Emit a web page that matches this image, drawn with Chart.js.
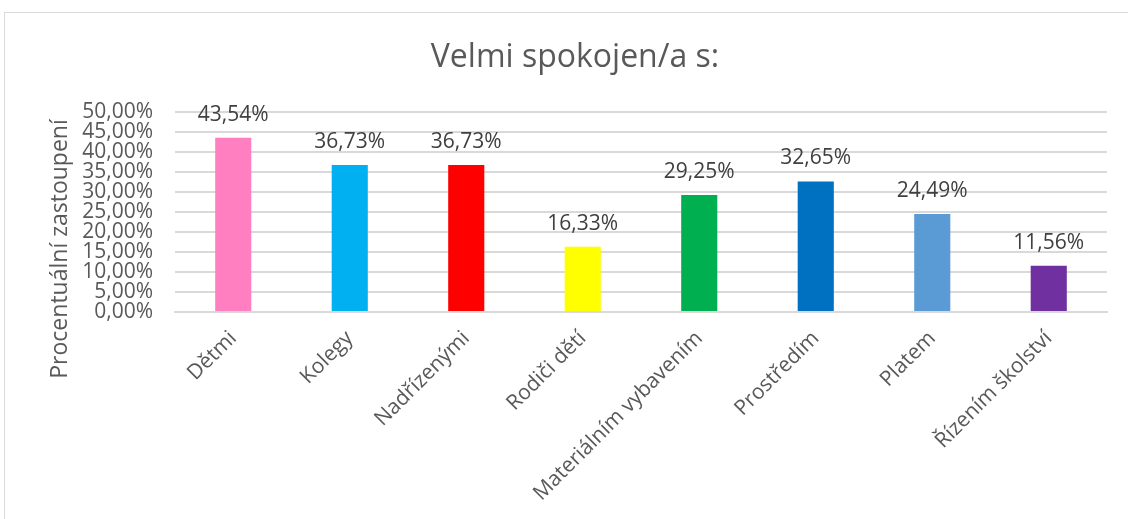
<!DOCTYPE html>
<html>
<head>
<meta charset="utf-8">
<script src="https://cdn.jsdelivr.net/npm/chart.js@4/dist/chart.umd.min.js"></script>
<style>
  html, body { margin: 0; padding: 0; background: #fff; }
  #wrap { position: relative; width: 1128px; height: 519px; overflow: hidden; }
  #frame { position: absolute; left: 4px; top: 12px; width: 1200px; height: 600px; border: 1px solid #d9d9d9; box-sizing: border-box; }
  canvas { position: absolute; left: 0; top: 0; }
</style>
</head>
<body>
<div id="wrap">
  <div id="frame"></div>
  <canvas id="chart" width="1128" height="519"></canvas>
</div>
<script>
// Velmi spokojen/a s: – values in percent
const categories = ['Dětmi', 'Kolegy', 'Nadřízenými', 'Rodiči dětí', 'Materiálním vybavením', 'Prostředím', 'Platem', 'Řízením školství'];
const values = [43.54, 36.73, 36.73, 16.33, 29.25, 32.65, 24.49, 11.56];
const barColors = ['#FF7FC0', '#00B0F0', '#FF0000', '#FFFF00', '#00B050', '#0070C0', '#5B9BD5', '#7030A0'];
const yTicks = [0, 5, 10, 15, 20, 25, 30, 35, 40, 45, 50];

const FONT = "'Open Sans', 'DejaVu Sans', sans-serif";
const fmt = v => v.toFixed(2).replace('.', ',') + '%';

// labels above bars
const valueLabels = {
  id: 'valueLabels',
  afterDatasetsDraw(chart) {
    const ctx = chart.ctx;
    const meta = chart.getDatasetMeta(0);
    ctx.save();
    ctx.fillStyle = '#404040';
    ctx.font = `21px ${FONT}`;
    ctx.textAlign = 'center';
    ctx.textBaseline = 'alphabetic';
    meta.data.forEach((bar, i) => {
      ctx.fillText(fmt(values[i]), bar.x, bar.y - 17);
    });
    ctx.restore();
  }
};

// y axis title, placed like the original (centred lower than the plot)
const yTitle = {
  id: 'yTitle',
  afterDraw(chart) {
    const ctx = chart.ctx;
    ctx.save();
    ctx.translate(60, 249);
    ctx.rotate(-Math.PI / 2);
    ctx.fillStyle = '#595959';
    ctx.font = `23px ${FONT}`;
    ctx.textAlign = 'center';
    ctx.textBaseline = 'middle';
    ctx.fillText('Procentuální zastoupení', 0, 0);
    ctx.restore();
  }
};

new Chart(document.getElementById('chart'), {
  type: 'bar',
  data: {
    labels: categories,
    datasets: [{
      data: values,
      backgroundColor: barColors,
      borderWidth: 0,
      categoryPercentage: 1,
      barPercentage: 0.31,
    }],
  },
  options: {
    responsive: false,
    animation: false,
    // left padding also nudges the centred title to the right, as in the original
    layout: { padding: { top: 0, right: 21, bottom: 0, left: 43 } },
    plugins: {
      legend: { display: false },
      tooltip: { enabled: false },
      title: {
        display: true,
        text: 'Velmi spokojen/a s:',
        color: '#595959',
        font: { family: FONT, size: 32, weight: 'normal' },
        padding: { top: 39, bottom: 34.6 },
      },
    },
    scales: {
      x: {
        afterFit: s => { s.height = 207; },
        grid: { display: false, drawTicks: false },
        border: { color: '#d9d9d9', width: 2 },
        ticks: {
          color: '#595959',
          font: { family: FONT, size: 21 },
          minRotation: 45,
          maxRotation: 45,
          autoSkip: false,
          padding: 14,
        },
      },
      y: {
        min: 0,
        max: 50,
        afterFit: s => { s.width = 132; },
        afterBuildTicks: s => { s.ticks = yTicks.map(v => ({ value: v })); },
        grid: { color: '#d9d9d9', lineWidth: 2, drawTicks: false },
        border: { display: false },
        ticks: {
          color: '#595959',
          font: { family: FONT, size: 21 },
          autoSkip: false,
          padding: 22,
          callback: v => fmt(v),
        },
      },
    },
  },
  plugins: [valueLabels, yTitle],
});
</script>
</body>
</html>
